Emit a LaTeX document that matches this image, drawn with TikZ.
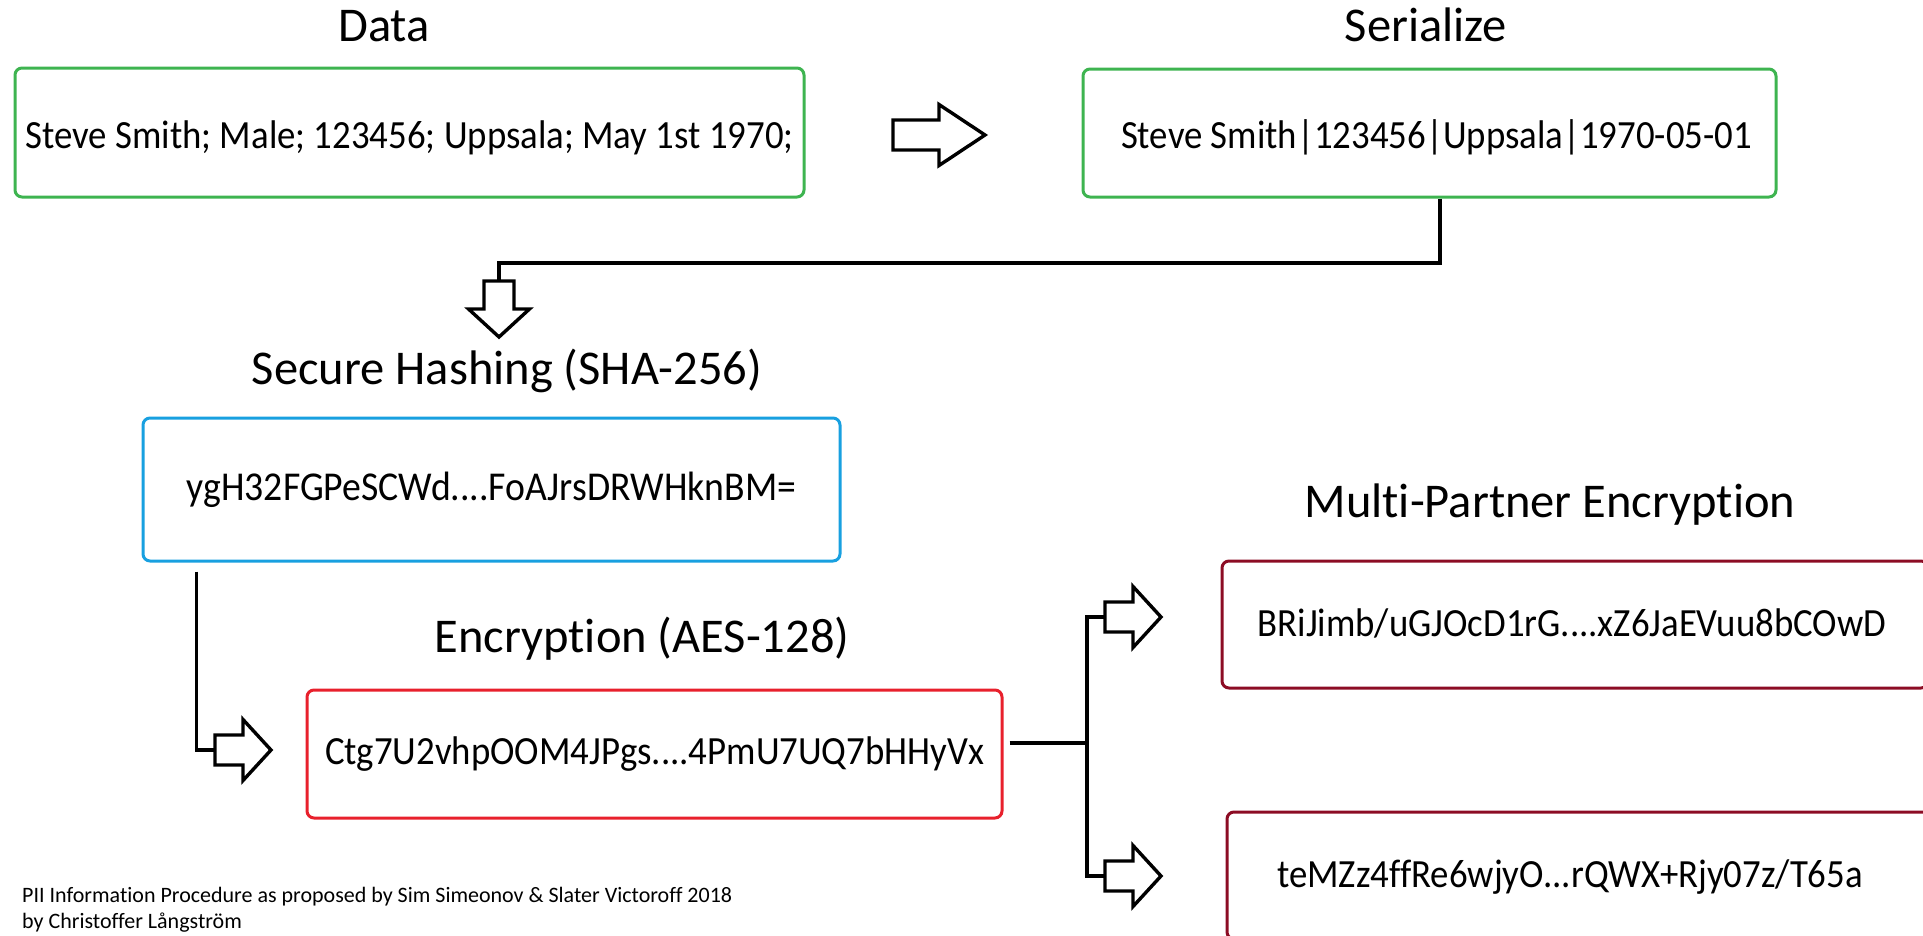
\documentclass[tikz,border=0pt]{standalone}
\usepackage{fontspec}
\setmainfont{Carlito}[Ligatures=NoCommon]
\newfontfamily\boxfont{Carlito}[FakeStretch=0.92, Ligatures=NoCommon]
\definecolor{boxgreen}{RGB}{62,180,80}
\definecolor{boxblue}{RGB}{24,160,224}
\definecolor{boxred}{RGB}{232,32,44}
\definecolor{boxmaroon}{RGB}{140,12,36}
\tikzset{
  title/.style={font=\fontsize{48.5}{58}\selectfont, inner sep=0pt, anchor=base},
  stagebox/.style={draw, rounded corners=7pt, line width=3pt, inner sep=0pt,
    font=\boxfont\fontsize{40}{48}\selectfont},
  boxtext/.style={font=\boxfont\fontsize{40}{48}\selectfont, inner sep=0pt},
  foot/.style={font=\fontsize{22}{26}\selectfont, inner sep=0pt, anchor=base west},
  conn/.style={line width=3.2pt, line join=miter},
  blockarrow/.pic={
    \draw[line width=3.4pt, line join=miter, fill=white]
      (0,-15) -- (28,-15) -- (28,-30.5) -- (56,0) -- (28,30.5) -- (28,15) -- (0,15) -- cycle;
  }
}
\begin{document}
\begin{tikzpicture}[x=1pt, y=-1pt]
\useasboundingbox (0,0) rectangle (1923,935);
\clip (0,0) rectangle (1923,935);

% stage titles
\node[title] (tdata) at (384,41) {Data};
\node[title] (tser)  at (1426,41) {Serialize};
\node[title] (thash) at (507,384) {Secure Hashing (SHA-256)};
\node[title] (tenc)  at (642,652) {Encryption (AES-128)};
\node[title] (tmp)   at (1550,517) {Multi-Partner Encryption};

% stage boxes
\node[stagebox, draw=boxgreen, minimum width=789pt, minimum height=129pt] (data) at (409.5,132.5) {};
\node[stagebox, draw=boxgreen, minimum width=693pt, minimum height=128pt] (ser) at (1429.5,133) {};
\node[stagebox, draw=boxblue, minimum width=697pt, minimum height=143pt,
      font=\boxfont\fontsize{41}{49}\selectfont] (hash) at (491.5,489.5)
  {ygH32FGPeSCWd....FoAJrsDRWHknBM=};
\node[stagebox, draw=boxred, minimum width=695pt, minimum height=128pt] (enc) at (654.5,754)
  {Ctg7U2vhpOOM4JPgs....4PmU7UQ7bHHyVx};
\node[stagebox, draw=boxmaroon, minimum width=706pt, minimum height=127pt] (p1) at (1575,624.5) {};
\node[stagebox, draw=boxmaroon, minimum width=706pt, minimum height=127pt] (p2) at (1580,875.5) {};

% box contents placed off-centre
\node[boxtext] (datat) at ([yshift=-5pt]data.center) {Steve Smith; Male; 123456; Uppsala; May 1st 1970;};
\node[boxtext] (sert)  at ([xshift=7pt, yshift=-4pt]ser.center) {Steve Smith|123456|Uppsala|1970-05-01};
\node[boxtext] (p1t) at (1572,623) {BRiJimb/uGJOcD1rG....xZ6JaEVuu8bCOwD};
\node[boxtext] (p2t) at (1570,877) {teMZz4ffRe6wjyO...rQWX+Rjy07z/T65a};

% arrow entry points
\coordinate (serin)  at (893,135);
\coordinate (hbend)  at (499,263);
\coordinate (hashin) at (499,281);
\coordinate (encin)  at (215,750);
\coordinate (split)  at (1087,743);
\coordinate (p1in)   at (1105,617);
\coordinate (p2in)   at (1105,876);

% connectors
\draw[conn] ([xshift=10.5pt]ser.south) |- (hbend) -- (hashin);
\draw[conn] ([xshift=55pt, yshift=-9pt]hash.south west) |- (encin);
\draw[conn] ([xshift=6pt]enc.east |- split) -- (split);
\draw[conn] (p1in) -| (split) |- (p2in);

% block arrows
\pic[xscale=1.643] at (serin) {blockarrow};
\pic[rotate=-90] at (hashin) {blockarrow};
\pic at (encin) {blockarrow};
\pic at (p1in) {blockarrow};
\pic at (p2in) {blockarrow};

% credits
\node[foot] (f1) at (22,902) {PII Information Procedure as proposed by Sim Simeonov \& Slater Victoroff 2018};
\node[foot] (f2) at (22,928) {by Christoffer Långström};
\end{tikzpicture}
\end{document}
